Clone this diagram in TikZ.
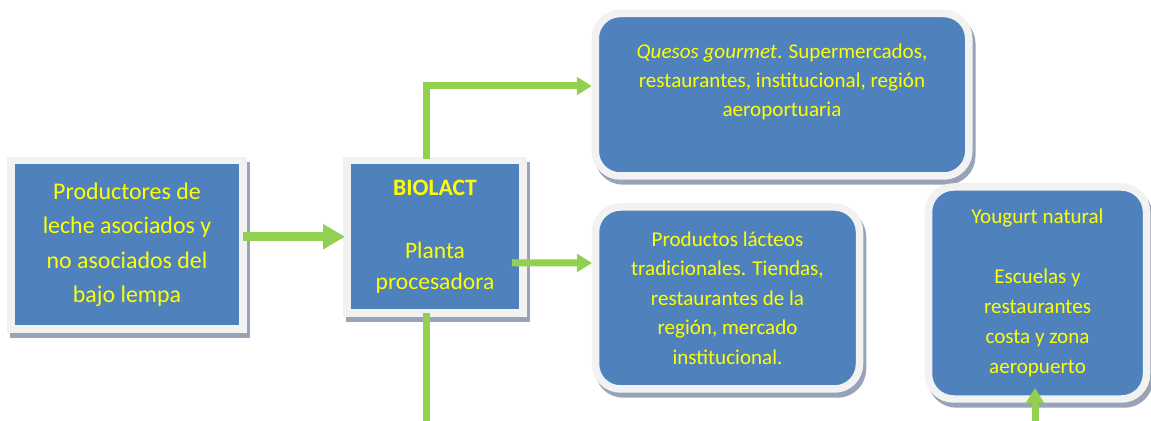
\documentclass[tikz,border=0pt]{standalone}
\usepackage{fontspec}
\setmainfont{Carlito}
\usepackage{xcolor}
\usetikzlibrary{calc}
\usetikzlibrary{shadows}
\usetikzlibrary{arrows.meta}
\definecolor{boxblue}{HTML}{4F81BD}
\definecolor{framegray}{HTML}{F2F2F2}
\definecolor{shadowgray}{HTML}{97A3B6}
\definecolor{arrowgreen}{HTML}{92D050}
\definecolor{textyellow}{HTML}{FFFF00}
\tikzset{%
    body/.style={inner sep=0pt,outer sep=0pt,shape=rectangle,draw=framegray,fill=boxblue,line width=0.15cm,
        text=textyellow,align=center,
        drop shadow={shadow xshift=0.06cm,shadow yshift=-0.1cm,fill=shadowgray,draw=shadowgray,line width=0.15cm,opacity=1}},
    round body/.style={body,rounded corners=0.5cm},
    flow/.style={-{Triangle[length=0.3cm,width=0.35cm]},line width=0.14cm,color=arrowgreen},
    big flow/.style={-{Triangle[length=0.44cm,width=0.48cm]},line width=0.18cm,color=arrowgreen},
    flowline/.style={line width=0.14cm,color=arrowgreen},
}
\begin{document}
\begin{tikzpicture}[x=0.02cm,y=-0.02cm]
        \useasboundingbox (0,0) rectangle (1151,421);
        \node [body,minimum width=232*0.02cm,minimum height=168.5*0.02cm,font=\fontsize{13.6}{19.5}\selectfont] (prod) at (127,244.75)
            {Productores de\\ leche asociados y\\ no asociados del\\ bajo lempa};
        \node [body,minimum width=176*0.02cm,minimum height=152.5*0.02cm,font=\fontsize{13.4}{17.8}\selectfont] (biolact) at (435,236.75)
            {\textbf{BIOLACT}\\ ~\\ Planta\\ procesadora};
        \node [round body,minimum width=373.5*0.02cm,minimum height=162.5*0.02cm,font=\fontsize{12}{16.7}\selectfont] (quesos) at (782,94.75)
            {\textit{Quesos gourmet}. Supermercados,\\ restaurantes, institucional, región\\ aeroportuaria\\ ~};
        \node [round body,minimum width=264*0.02cm,minimum height=182*0.02cm,font=\fontsize{12}{16.8}\selectfont] (lacteos) at (727.5,298)
            {Productos lácteos\\ tradicionales. Tiendas,\\ restaurantes de la\\ región, mercado\\ institucional.};
        \node [round body,minimum width=218*0.02cm,minimum height=212*0.02cm,font=\fontsize{12}{17}\selectfont] (yogurt) at (1037.5,293)
            {Yougurt natural\\ ~\\ Escuelas y\\ restaurantes\\ costa y zona\\ aeropuerto};

        \coordinate (down) at (426,421);
        \coordinate (up) at (1035,421);
        \draw [big flow] ($(prod.east)+(0,-8)$) -- ($(biolact.west)+(-2,0)$);
        \draw [flow] ($(biolact.north)+(-9,-1)$) |- ($(quesos.west)+(-3.5,-8.75)$);
        \draw [flow] ($(biolact.east)+(-11,26)$) -- ($(lacteos.west)+(-3.5,-35)$);
        \draw [flowline] ($(biolact.south)+(-9,0)$) -- (down);
        \draw [flow] (up) -- ($(yogurt.south)+(-2.5,-11)$);
    \end{tikzpicture}
\end{document}
